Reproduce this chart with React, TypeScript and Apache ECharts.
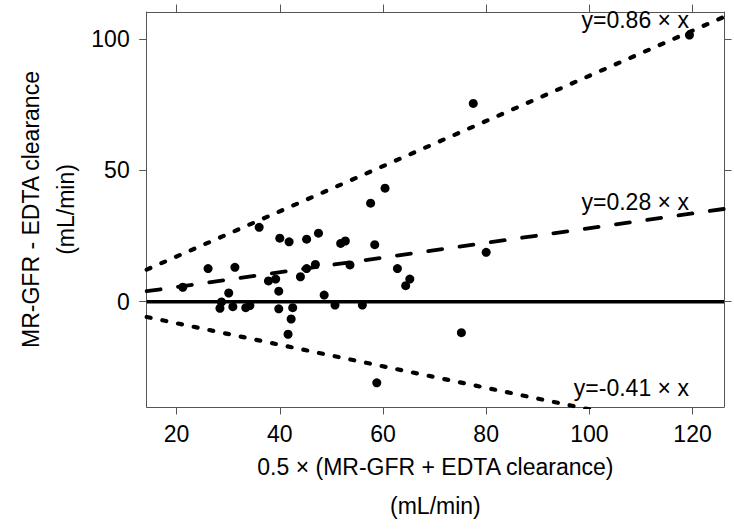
import React, { useEffect, useRef } from "react";
import * as echarts from "echarts";

// Data
const meanValues = [
  21.2, 26.1, 31.3, 30.1, 28.7, 28.4, 30.9, 33.4, 34.2, 36.0, 37.8, 39.2, 39.8, 39.8,
  40.0, 41.8, 42.5, 42.2, 41.6, 44.0, 45.2, 45.2, 46.9, 47.5, 48.6, 50.7, 51.8, 52.7,
  53.6, 56.0, 57.6, 60.4, 58.4, 58.8, 62.8, 64.4, 65.2, 75.2, 77.5, 80.0, 119.4,
];
const diffValues = [
  5.5, 12.6, 13.1, 3.3, -0.1, -2.5, -1.9, -2.3, -1.5, 28.3, 7.9, 8.6, 4.0, -2.7,
  24.2, 22.8, -2.3, -6.6, -12.4, 9.5, 23.8, 12.6, 14.2, 26.1, 2.5, -1.3, 22.2, 23.1,
  14.0, -1.3, 37.5, 43.2, 21.7, -30.9, 12.6, 6.1, 8.6, -11.8, 75.5, 18.8, 101.5,
];
const lineSlopes = [0.86, 0.28, 0, -0.41];
const lineLabels = ["y=0.86 × x", "y=0.28 × x", "", "y=-0.41 × x"];
const xTicks = [20, 40, 60, 80, 100, 120];
const yTicks = [0, 50, 100];
const xTitle = "0.5 × (MR-GFR + EDTA clearance)";
const yTitle = "MR-GFR - EDTA clearance";
const unitTitle = "(mL/min)";

const X_MIN = 14.2;
const X_MAX = 126.1;
const Y_MIN = -40.1;
const Y_MAX = 110.3;
const FONT = "'Liberation Sans', Arial, Helvetica, sans-serif";
const FS = 23;

// label anchor points (right edge, vertical centre) in data space
const labelAnchors = [
  [119.3, 107.3],
  [119.3, 37.8],
  null,
  [119.3, -32.7],
];

const lineStyles = [
  { width: 4.2, type: [4, 12], cap: "round" },
  { width: 3.8, type: [14, 17.6], cap: "round" },
  { width: 3.6, type: "solid", cap: "butt" },
  { width: 4.2, type: [4, 12], cap: "round" },
];

export default function App() {
  const ref = useRef<HTMLDivElement>(null);
  useEffect(() => {
    if (!ref.current) return;
    const chart = echarts.init(ref.current, null, { renderer: "svg" });
    const frame = "#555";
    const baseAxis = {
      type: "value",
      splitLine: { show: false },
      axisLine: { show: true, onZero: false, lineStyle: { color: frame, width: 1 } },
      axisTick: { show: true, length: 7.5, lineStyle: { color: frame, width: 1 } },
    };
    const lineSeries = lineSlopes.map((s, i) => ({
      type: "line",
      data: [
        [X_MIN, s * X_MIN],
        [X_MAX, s * X_MAX],
      ],
      showSymbol: false,
      symbol: "none",
      silent: true,
      clip: true,
      lineStyle: { color: "#000", opacity: 1, ...lineStyles[i] },
      z: 3,
    }));
    const labelSeries = {
      type: "scatter",
      symbolSize: 0,
      silent: true,
      itemStyle: { opacity: 1 },
      data: labelAnchors
        .map((a, i) => (a ? { value: a, name: lineLabels[i] } : null))
        .filter(Boolean),
      label: {
        show: true,
        position: "left",
        distance: 0,
        formatter: (p: any) => p.name,
        color: "#000",
        opacity: 1,
        fontSize: FS,
        fontFamily: FONT,
      },
      z: 5,
    };
    chart.setOption({
      animation: false,
      backgroundColor: "#fff",
      textStyle: { fontFamily: FONT },
      grid: { left: 146.7, top: 12, right: 10, bottom: 122, containLabel: false },
      xAxis: [
        {
          ...baseAxis,
          position: "bottom",
          min: X_MIN,
          max: X_MAX,
          axisTick: { ...baseAxis.axisTick, customValues: xTicks },
          axisLabel: {
            customValues: xTicks,
            margin: 15,
            color: "#000",
            fontSize: FS,
            fontFamily: FONT,
          },
        },
        {
          ...baseAxis,
          position: "top",
          min: X_MIN,
          max: X_MAX,
          axisTick: { ...baseAxis.axisTick, customValues: xTicks },
          axisLabel: { show: false },
        },
      ],
      yAxis: [
        {
          ...baseAxis,
          position: "left",
          min: Y_MIN,
          max: Y_MAX,
          axisTick: { ...baseAxis.axisTick, customValues: yTicks },
          axisLabel: {
            customValues: yTicks,
            margin: 17,
            color: "#000",
            fontSize: FS,
            fontFamily: FONT,
          },
        },
        {
          ...baseAxis,
          position: "right",
          min: Y_MIN,
          max: Y_MAX,
          axisTick: { ...baseAxis.axisTick, customValues: yTicks },
          axisLabel: { show: false },
        },
      ],
      series: [
        {
          type: "scatter",
          data: meanValues.map((x, i) => [x, diffValues[i]]),
          symbol: "circle",
          symbolSize: 9,
          itemStyle: { color: "#000", opacity: 1 },
          z: 4,
        },
        ...lineSeries,
        labelSeries,
      ],
      graphic: [
        {
          type: "text",
          x: 435.4,
          y: 467,
          style: {
            text: xTitle,
            fill: "#000",
            font: `${FS}px ${FONT}`,
            textAlign: "center",
            textVerticalAlign: "middle",
          },
        },
        {
          type: "text",
          x: 435.4,
          y: 506,
          style: {
            text: unitTitle,
            fill: "#000",
            font: `${FS}px ${FONT}`,
            textAlign: "center",
            textVerticalAlign: "middle",
          },
        },
        {
          type: "text",
          x: 31,
          y: 209.5,
          rotation: Math.PI / 2,
          style: {
            text: yTitle,
            fill: "#000",
            font: `${FS}px ${FONT}`,
            textAlign: "center",
            textVerticalAlign: "middle",
          },
        },
        {
          type: "text",
          x: 66,
          y: 209.5,
          rotation: Math.PI / 2,
          style: {
            text: unitTitle,
            fill: "#000",
            font: `${FS}px ${FONT}`,
            textAlign: "center",
            textVerticalAlign: "middle",
          },
        },
      ],
    });
    return () => chart.dispose();
  }, []);
  return (
    <div
      ref={ref}
      style={{ position: "fixed", left: 0, top: 0, width: 734, height: 529, background: "#fff" }}
    />
  );
}
